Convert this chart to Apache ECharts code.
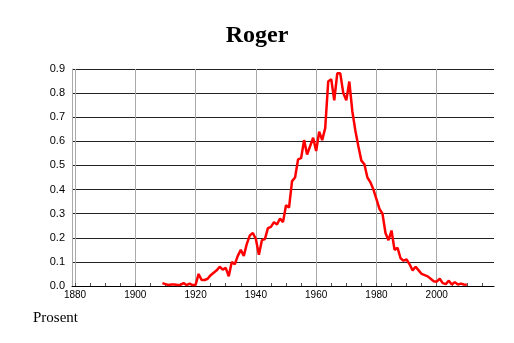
<!DOCTYPE html>
<html>
<head>
<meta charset="utf-8">
<script src="https://cdn.jsdelivr.net/npm/echarts@6/dist/echarts.min.js"></script>
<style>
  html, body { margin: 0; padding: 0; background: #fff; }
  #chart { width: 514px; height: 343px; }
</style>
</head>
<body>
<div id="chart"></div>
<script>
// navn: Roger, prosent per år
var years = [
  1909, 1910, 1911, 1912, 1913, 1914, 1915, 1916, 1917, 1918, 1919,
  1920, 1921, 1922, 1923, 1924, 1925, 1926, 1927, 1928, 1929,
  1930, 1931, 1932, 1933, 1934, 1935, 1936, 1937, 1938, 1939,
  1940, 1941, 1942, 1943, 1944, 1945, 1946, 1947, 1948, 1949,
  1950, 1951, 1952, 1953, 1954, 1955, 1956, 1957, 1958, 1959,
  1960, 1961, 1962, 1963, 1964, 1965, 1966, 1967, 1968, 1969,
  1970, 1971, 1972, 1973, 1974, 1975, 1976, 1977, 1978, 1979,
  1980, 1981, 1982, 1983, 1984, 1985, 1986, 1987, 1988, 1989,
  1990, 1991, 1992, 1993, 1994, 1995, 1996, 1997, 1998, 1999,
  2000, 2001, 2002, 2003, 2004, 2005, 2006, 2007, 2008, 2009, 2010
];
var prosent = [
  0.012, 0.008, 0.004, 0.006, 0.006, 0.004, 0.005, 0.012, 0.004, 0.010, 0.004,
  0.004, 0.050, 0.025, 0.025, 0.030, 0.045, 0.055, 0.065, 0.080, 0.068,
  0.075, 0.040, 0.100, 0.090, 0.125, 0.150, 0.125, 0.175, 0.210, 0.220,
  0.195, 0.130, 0.190, 0.195, 0.240, 0.245, 0.265, 0.255, 0.280, 0.265,
  0.335, 0.325, 0.435, 0.450, 0.525, 0.530, 0.605, 0.545, 0.580, 0.615,
  0.560, 0.640, 0.605, 0.655, 0.848, 0.858, 0.770, 0.882, 0.882, 0.800,
  0.770, 0.848, 0.725, 0.645, 0.580, 0.520, 0.505, 0.450, 0.430, 0.400,
  0.360, 0.320, 0.300, 0.220, 0.190, 0.230, 0.150, 0.158, 0.115, 0.105,
  0.110, 0.090, 0.065, 0.080, 0.065, 0.050, 0.045, 0.040, 0.030, 0.020,
  0.018, 0.030, 0.012, 0.008, 0.022, 0.006, 0.016, 0.006, 0.010, 0.006, 0.005
];
var xLabels = [1880, 1900, 1920, 1940, 1960, 1980, 2000];
var xTicks = [1880, 1885, 1890, 1895, 1900, 1905, 1910, 1915, 1920, 1925, 1930,
  1935, 1940, 1945, 1950, 1955, 1960, 1965, 1970, 1975, 1980, 1985, 1990,
  1995, 2000, 2005, 2010, 2015];

var chart = echarts.init(document.getElementById('chart'));

var points = [];
for (var i = 0; i < years.length; i++) {
  points.push([years[i], prosent[i]]);
}

chart.setOption({
  animation: false,
  title: {
    text: 'Roger',
    left: 'center',
    top: 19,
    textStyle: { fontFamily: 'Liberation Serif', fontWeight: 'bold', fontSize: 24, color: '#000' }
  },
  graphic: [{
    type: 'text',
    left: 33,
    top: 311,
    style: { text: 'Prosent', font: '15px "Liberation Serif"', fill: '#000' }
  }],
  grid: { left: 72, right: 20, top: 69, bottom: 57, containLabel: false },
  xAxis: [{
    type: 'value',
    min: 1879,
    max: 2019,
    axisLine: { show: true, lineStyle: { color: '#000', width: 1 } },
    axisTick: { show: true, inside: true, length: 3, customValues: xTicks, lineStyle: { color: '#555' } },
    axisLabel: {
      customValues: xLabels, fontFamily: 'Liberation Sans', fontSize: 10, color: '#000', margin: 4,
      formatter: function (v) { return String(v); }
    },
    splitLine: { show: false }
  }, {
    type: 'value',
    min: 1879,
    max: 2019,
    position: 'bottom',
    axisLine: { show: false },
    axisTick: { show: false, customValues: xLabels },
    axisLabel: { show: false },
    splitLine: { show: true, lineStyle: { color: '#aaa', width: 1 } }
  }],
  yAxis: {
    type: 'value',
    min: 0,
    max: 0.9,
    interval: 0.1,
    axisLine: { show: true, lineStyle: { color: '#aaa' } },
    axisTick: { show: false },
    axisLabel: {
      fontFamily: 'Liberation Sans', fontSize: 11, color: '#000', margin: 7,
      formatter: function (v) { return v.toFixed(1); }
    },
    splitLine: { show: true, lineStyle: { color: '#222', width: 1 } }
  },
  series: [{
    type: 'line',
    xAxisIndex: 0,
    data: points,
    showSymbol: false,
    lineStyle: { color: '#ff0000', width: 2.5 },
    z: 5
  }]
});
</script>
</body>
</html>
